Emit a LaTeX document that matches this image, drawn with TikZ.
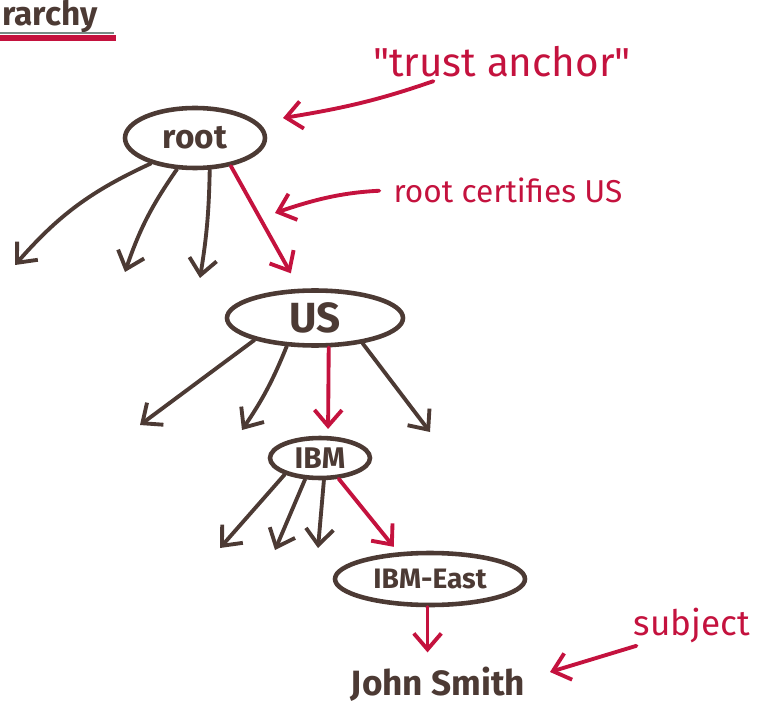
\documentclass[tikz,border=0pt]{standalone}
\usepackage{fontspec}
\setmainfont{Fira Sans}
\usetikzlibrary{arrows.meta,shapes.geometric}
\definecolor{inkbrown}{RGB}{76,58,52}
\definecolor{inkred}{RGB}{196,18,62}
\definecolor{inkgray}{RGB}{120,140,135}

\begin{document}
\begin{tikzpicture}[x=0.02cm, y=-0.02cm,
    every node/.style={text=inkbrown},
    ca/.style={ellipse, draw=inkbrown, line width=2.6pt, inner sep=0pt, font=\bfseries},
    link/.style={draw=inkbrown, line width=2.2pt, line cap=round, -{Straight Barb[length=3.2mm, width=5.5mm]}},
    trust/.style={link, draw=inkred},
    note/.style={text=inkred, inner sep=0pt}]
    \useasboundingbox (0,0) rectangle (777,702);

    % heading, cut off at the left
    \node[anchor=west, inner sep=0pt, font=\bfseries\fontsize{19}{22}\selectfont] (head) at (2,17) {rarchy};
    \draw[inkgray, line width=1.4pt] (0,33) -- (114,33);
    \draw[inkred, line width=3pt] (0,38) -- (116,38);

    % certificate authorities
    \node[ca, minimum width=2.8cm, minimum height=1.2cm, font=\bfseries\fontsize{19}{22}\selectfont] (root) at (195,138) {root};
    \node[ca, minimum width=3.52cm, minimum height=1.1cm, font=\bfseries\fontsize{24}{28}\selectfont] (us) at (315,318) {US};
    \node[ca, minimum width=2cm, minimum height=0.8cm, inner xsep=-5pt, inner ysep=-2pt, font=\bfseries\fontsize{17}{20}\selectfont] (ibm) at (320,458) {IBM};
    \node[ca, minimum width=3.8cm, minimum height=1.04cm, font=\bfseries\fontsize{16}{19}\selectfont] (east) at (430,579) {IBM-East};
    \node[inner sep=0pt, font=\bfseries\fontsize{20}{24}\selectfont] (john) at (438,684) {John Smith};

    % notes
    \node[note, font=\fontsize{23}{27}\selectfont] (anchor) at (502,62) {\textquotedbl trust anchor\textquotedbl};
    \node[note, font=\fontsize{18}{22}\selectfont] (cert) at (508,190) {root certifies US};
    \node[note, font=\fontsize{20}{24}\selectfont] (subject) at (692,626) {subject};

    % free ends
    \coordinate (r1) at (15,265);
    \coordinate (r2) at (125,272);
    \coordinate (r3) at (200,278);
    \coordinate (u1) at (140,425);
    \coordinate (u2) at (242,430);
    \coordinate (u4) at (430,432);
    \coordinate (i1) at (220,548);
    \coordinate (i2) at (275,550);
    \coordinate (i3) at (318,548);
    \coordinate (anchorTip) at (283,118);
    \coordinate (certTip) at (275,213);
    \coordinate (subjectTip) at (550,672);

    % issued certificates
    \draw[link] (root.-150) to[bend right=12] (r1);
    \draw[link] (root.-120) to[bend right=8] (r2);
    \draw[link] (root.-65) to[bend left=4] (r3);
    \draw[link] (us.-160) -- (u1);
    \draw[link] (us.-135) to[bend left=6] (u2);
    \draw[link] (us.-28) -- (u4);
    \draw[link] (ibm.-155) -- (i1);
    \draw[link] (ibm.-125) -- (i2);
    \draw[link] (ibm.-80) -- (i3);

    % certification path
    \draw[trust, shorten >=10pt] (root.-38) -- (us.118);
    \draw[trust, shorten >=4pt] (us.-65) -- (ibm.70);
    \draw[trust, shorten >=4pt] (ibm.-48) -- (east.140);
    \draw[trust, shorten >=8pt] (east.265) -- (east.265 |- john.north);

    % pointers from notes
    \draw[trust, shorten <=6pt] (anchor.195) to[bend left=5] (anchorTip);
    \draw[trust, shorten <=8pt] (cert.west) to[bend right=8] (certTip);
    \draw[trust, shorten <=4pt] (subject.200) -- (subjectTip);
\end{tikzpicture}
\end{document}
